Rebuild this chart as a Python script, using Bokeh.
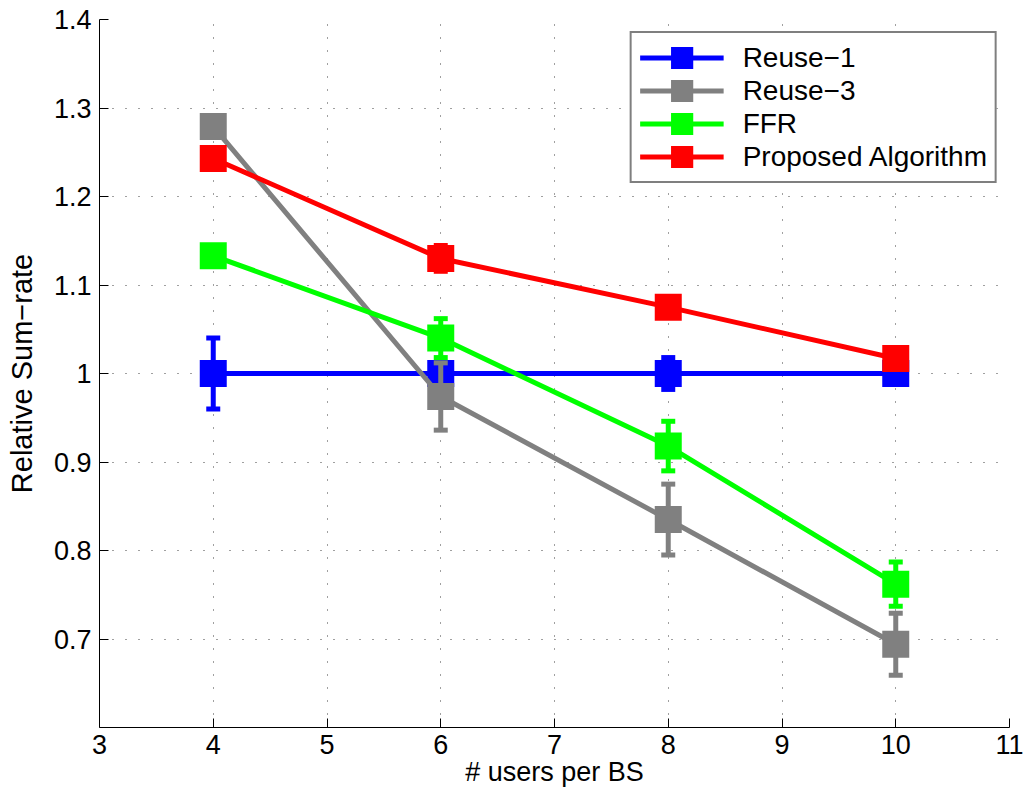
from bokeh.plotting import figure
from bokeh.models import Range1d, FixedTicker, Legend, LegendItem
from bokeh.embed import file_html
from bokeh.resources import INLINE

# Relative sum-rate versus number of users per base station
users = [4, 6, 8, 10]

reuse1 = [1.000, 1.000, 1.000, 1.000]
reuse1_err = [0.040, 0.012, 0.018, 0.008]

reuse3 = [1.279, 0.974, 0.835, 0.694]
reuse3_err = [0.008, 0.038, 0.040, 0.035]

ffr = [1.133, 1.040, 0.918, 0.762]
ffr_err = [0.008, 0.022, 0.028, 0.025]

proposed = [1.243, 1.130, 1.075, 1.017]
proposed_err = [0.008, 0.0145, 0.008, 0.008]

series_names = ["Reuse−1", "Reuse−3", "FFR", "Proposed Algorithm"]
series_colors = ["#0000ff", "#808080", "#00ff00", "#ff0000"]

x_ticks = [3, 4, 5, 6, 7, 8, 9, 10, 11]
y_ticks = [0.7, 0.8, 0.9, 1.0, 1.1, 1.2, 1.3, 1.4]
y_tick_labels = ["0.7", "0.8", "0.9", "1", "1.1", "1.2", "1.3", "1.4"]

FONT = "Liberation Sans"

p = figure(
    width=1026, height=798,
    x_range=Range1d(3, 11), y_range=Range1d(0.6, 1.4),
    output_backend="svg", toolbar_location=None,
    min_border_left=99, min_border_right=17,
    min_border_top=19, min_border_bottom=71,
    x_axis_label="# users per BS", y_axis_label="Relative Sum−rate",
)
p.outline_line_color = None
p.background_fill_color = "white"
p.border_fill_color = "white"

p.xaxis.ticker = FixedTicker(ticks=x_ticks, minor_ticks=[])
p.yaxis.ticker = FixedTicker(ticks=y_ticks, minor_ticks=[])
p.yaxis.major_label_overrides = dict(zip(y_ticks, y_tick_labels))

for ax in (p.xaxis, p.yaxis):
    ax.axis_line_color = "#000000"
    ax.axis_line_width = 1
    ax.major_tick_line_color = "#000000"
    ax.major_tick_in = 9
    ax.major_tick_out = 0
    ax.minor_tick_in = 0
    ax.minor_tick_out = 0
    ax.major_label_text_font = FONT
    ax.major_label_text_font_size = "27px"
    ax.major_label_text_color = "#000000"
    ax.axis_label_text_font = FONT
    ax.axis_label_text_font_style = "normal"
    ax.axis_label_text_color = "#000000"

p.xaxis.major_label_standoff = 7
p.yaxis.major_label_standoff = 8
p.xaxis.axis_label_text_font_size = "27px"
p.yaxis.axis_label_text_font_size = "29px"
p.xaxis.axis_label_standoff = 0
p.yaxis.axis_label_standoff = 13

p.grid.grid_line_color = "#000000"
p.grid.grid_line_alpha = 0.75
p.grid.grid_line_width = 1
p.grid.grid_line_dash = "1 12"

items = []
for name, color, vals, errs in zip(
    series_names, series_colors,
    [reuse1, reuse3, ffr, proposed],
    [reuse1_err, reuse3_err, ffr_err, proposed_err],
):
    upper = [v + e for v, e in zip(vals, errs)]
    lower = [v - e for v, e in zip(vals, errs)]
    line_r = p.line(users, vals, line_color=color, line_width=5)
    p.segment(x0=users, y0=lower, x1=users, y1=upper,
              line_color=color, line_width=5)
    p.scatter(users + users, upper + lower, marker="dash", size=14,
              line_color=color, line_width=5)
    mark_r = p.scatter(users, vals, marker="square", size=18,
                       fill_color=color, line_color=color,
                       line_width=9, line_join="miter")
    items.append(LegendItem(label=name, renderers=[line_r, mark_r]))

legend = Legend(
    items=items, location="top_right", margin=12,
    padding=8, spacing=0,
    glyph_width=84, glyph_height=33, label_height=33,
    label_standoff=19,
    label_text_font=FONT, label_text_font_size="28px",
    label_text_color="#000000",
    border_line_color="#000000", border_line_width=2,
    background_fill_color="white", background_fill_alpha=1.0,
)
p.add_layout(legend)

open("out.html", "w").write(file_html(p, INLINE))
